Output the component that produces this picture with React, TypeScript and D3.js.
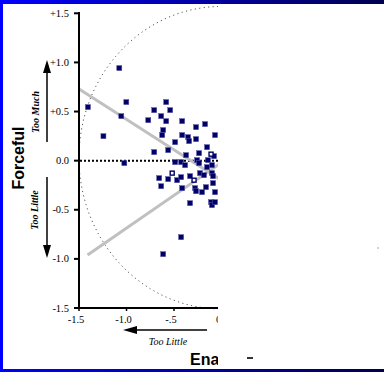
import React from "react";
import * as d3 from "d3";

const W = 384;
const H = 372;

// Axis ticks
const xTicks = [-1.5, -1.0, -0.5, 0];
const xTickLabels = ["-1.5", "-1.0", "-.5", "0"];
const yTicks = [1.5, 1.0, 0.5, 0, -0.5, -1.0, -1.5];
const yTickLabels = ["+1.5", "+1.0", "+0.5", "0.0", "-0.5", "-1.0", "-1.5"];

// Individual ratings (Enabling, Forceful)
const pointX = [
  -1.406, -1.076, -1.002, -1.055, -1.243, -1.023, -0.771,
  -0.582, -0.708, -0.54, -0.635, -0.582, -0.414, -0.173, -0.268, -0.614,
  -0.624, -0.414, -0.068, -0.352, -0.341, -0.268, -0.488, -0.152, -0.561,
  -0.708, -0.373, -0.236, -0.079,
  -0.488, -0.425, -0.383, -0.257, -0.236, -0.142, -0.1, -0.152,
  -0.656, -0.561, -0.467, -0.425, -0.331, -0.226, -0.184, -0.1, -0.089,
  -0.635, -0.414, -0.278, -0.268, -0.205, -0.163, -0.089, -0.068,
  -0.331, -0.11, -0.1, -0.068, -0.425, -0.614,
];
const pointY = [
  0.545, 0.942, 0.596, 0.453, 0.249, -0.025, 0.412,
  0.596, 0.514, 0.514, 0.453, 0.402, 0.402, 0.372, 0.341, 0.311,
  0.26, 0.26, 0.26, 0.239, 0.199, 0.219, 0.188, 0.137, 0.107,
  0.087, 0.056, 0.076, 0.046,
  -0.015, -0.015, -0.046, 0.005, -0.025, 0.005, -0.046, -0.066,
  -0.178, -0.188, -0.199, -0.168, -0.158, -0.127, -0.148, -0.127, -0.158,
  -0.26, -0.28, -0.28, -0.311, -0.321, -0.27, -0.229, -0.321,
  -0.433, -0.423, -0.453, -0.423, -0.779, -0.952,
];
// Ratings drawn as hollow squares
const openX = [-0.11, -0.519, -0.289];
const openY = [0.066, -0.127, -0.199];

// Fitted trend lines (two end points each)
const trendAX = [-1.5, 0];
const trendAY = [0.73, -0.2];
const trendBX = [-1.41, 0];
const trendBY = [-0.96, -0.02];

// Reference ring
const ringRx = 1.5;
const ringRy = 1.54;
const ringCy = 0.03;

const serif = "'Liberation Serif', 'Times New Roman', serif";
const sans = "'Liberation Sans', Arial, sans-serif";

export default function App() {
  const x = d3.scaleLinear().domain([-1.5, 0]).range([79, 221.5]);
  const y = d3.scaleLinear().domain([-1.5, 1.5]).range([308, 13.3]);

  const line = d3
    .line<[number, number]>()
    .x((d) => x(d[0]))
    .y((d) => y(d[1]));

  const trendA = line(trendAX.map((v, i) => [v, trendAY[i]] as [number, number]));
  const trendB = line(trendBX.map((v, i) => [v, trendBY[i]] as [number, number]));

  const ringPts: [number, number][] = d3
    .range(0, 361, 2)
    .map((a) => [ringRx * Math.cos((a * Math.PI) / 180), ringCy + ringRy * Math.sin((a * Math.PI) / 180)]);
  const ring = line(ringPts);

  const pts = pointX.map((v, i) => ({ x: v, y: pointY[i] }));
  const opens = openX.map((v, i) => ({ x: v, y: openY[i] }));

  const axX = x(-1.5);
  const axY = y(-1.5);

  return (
    <svg
      width={W}
      height={H}
      style={{ position: "fixed", left: 0, top: 0, background: "#fff" }}
    >
      <defs>
        <linearGradient id="bar" x1="0" x2="1" y1="0" y2="0">
          <stop offset="0%" stopColor="#0000ff" />
          <stop offset="100%" stopColor="#000050" />
        </linearGradient>
        <clipPath id="visible">
          <rect x={0} y={0} width={218} height={H} />
        </clipPath>
      </defs>

      <g clipPath="url(#visible)">
        {/* reference ring */}
        <path d={ring || ""} fill="none" stroke="#555" strokeWidth={1} strokeDasharray="1.2 3.3" />

        {/* zero line */}
        <line x1={axX + 1} x2={x(0) + 2} y1={y(0)} y2={y(0)} stroke="#000" strokeWidth={2} strokeDasharray="2 2" />

        {/* trend lines */}
        <path d={trendA || ""} stroke="#c0c0c0" strokeWidth={3} fill="none" />
        <path d={trendB || ""} stroke="#c0c0c0" strokeWidth={3} fill="none" />

        {/* ratings */}
        {pts.map((p, i) => (
          <rect
            key={i}
            x={x(p.x) - 2.5}
            y={y(p.y) - 2.5}
            width={5}
            height={5}
            fill="#000066"
            stroke="#5050a8"
            strokeWidth={0.5}
          />
        ))}
        {opens.map((p, i) => (
          <rect
            key={"o" + i}
            x={x(p.x) - 2}
            y={y(p.y) - 2}
            width={4}
            height={4}
            fill="#fff"
            stroke="#000066"
            strokeWidth={1.4}
          />
        ))}

        {/* axes */}
        <line x1={axX} x2={axX} y1={12} y2={axY + 1} stroke="#000" strokeWidth={2} />
        <line x1={axX - 1} x2={230} y1={axY} y2={axY} stroke="#000" strokeWidth={2} />
        {yTicks.map((t, i) => (
          <g key={"yt" + i}>
            <line x1={axX - 5} x2={axX} y1={y(t)} y2={y(t)} stroke="#000" strokeWidth={2} />
            <text x={69} y={y(t) + 3.6} textAnchor="end" fontFamily={serif} fontSize={10.5} fill="#000">
              {yTickLabels[i]}
            </text>
          </g>
        ))}
        {xTicks.map((t, i) => (
          <g key={"xt" + i}>
            <line x1={x(t)} x2={x(t)} y1={axY} y2={axY + 3} stroke="#000" strokeWidth={1.5} />
            <text x={x(t) - 3} y={323} textAnchor="middle" fontFamily={serif} fontSize={10.5} fill="#000">
              {xTickLabels[i]}
            </text>
          </g>
        ))}

        {/* y annotations */}
        <text
          transform="translate(23.5,158) rotate(-90)"
          textAnchor="middle"
          fontFamily={sans}
          fontWeight="bold"
          fontSize={16}
          fill="#000"
        >
          Forceful
        </text>
        <text
          transform="translate(38.5,112) rotate(-90)"
          textAnchor="middle"
          fontFamily={serif}
          fontStyle="italic"
          fontWeight="bold"
          fontSize={10}
          fill="#000"
        >
          Too Much
        </text>
        <text
          transform="translate(37.5,210) rotate(-90)"
          textAnchor="middle"
          fontFamily={serif}
          fontStyle="italic"
          fontWeight="bold"
          fontSize={10}
          fill="#000"
        >
          Too Little
        </text>
        <line x1={47} x2={47} y1={142} y2={70} stroke="#000" strokeWidth={1.5} />
        <path d="M47,60 L43,73 L51,73 Z" fill="#000" />
        <line x1={47} x2={47} y1={177} y2={248} stroke="#000" strokeWidth={1.5} />
        <path d="M47,258 L43,245 L51,245 Z" fill="#000" />

        {/* x annotations */}
        <line x1={207} x2={132} y1={330} y2={330} stroke="#000" strokeWidth={1.5} />
        <path d="M123,330 L137,326 L137,334 Z" fill="#000" />
        <text x={168} y={345} textAnchor="middle" fontFamily={serif} fontStyle="italic" fontSize={10} fill="#000">
          Too Little
        </text>
        <text x={190} y={365} fontFamily={sans} fontWeight="bold" fontSize={16} fill="#000">
          Ena
        </text>
      </g>

      {/* stray marks */}
      <rect x={247} y={357} width={6} height={2} fill="#333" />
      <rect x={377} y={247.5} width={2} height={1} fill="#aaa" />

      {/* frame */}
      <rect x={0} y={0} width={W} height={4} fill="url(#bar)" />
      <rect x={0} y={H - 3} width={W} height={3} fill="url(#bar)" />
      <rect x={0} y={0} width={3} height={H} fill="#0000ff" />
    </svg>
  );
}
